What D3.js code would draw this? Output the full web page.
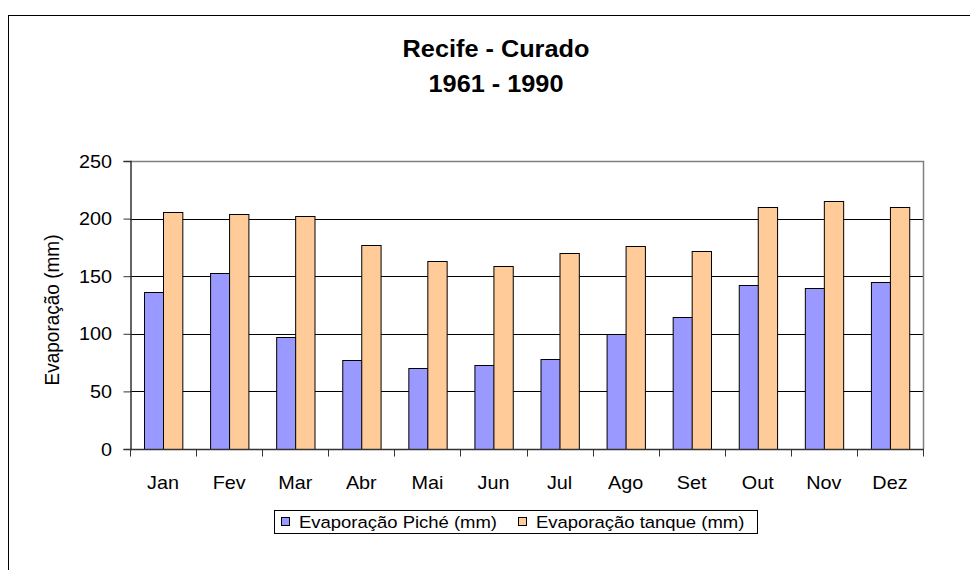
<!DOCTYPE html>
<html>
<head>
<meta charset="UTF-8">
<title>Recife - Curado</title>
<style>
body { margin: 0; background: #fff; }
svg { display: block; font-family: "Liberation Sans", Arial, sans-serif; }
</style>
</head>
<body>
<svg id="chart" width="970" height="570"></svg>
<script src="https://d3js.org/d3.v7.min.js"></script>
<script>
// chart data
const months = ["Jan", "Fev", "Mar", "Abr", "Mai", "Jun", "Jul", "Ago", "Set", "Out", "Nov", "Dez"];
const piche = [136, 153, 97, 77, 70, 73, 78, 100, 115, 142, 140, 145];
const tanque = [206, 204, 202, 177, 163, 159, 170, 176, 172, 210, 215, 210];
const seriesNames = ["Evaporação Piché (mm)", "Evaporação tanque (mm)"];
const seriesColors = ["#9999FF", "#FFCC99"];
const yTicks = [0, 50, 100, 150, 200, 250];

const svg = d3.select("#chart");
const margin = {left: 130, right: 923, top: 161, bottom: 449};
const sx = 1.1; // the reference is a bit wider than tall

// text helper: stretched horizontally a little
function label(g, x, y, txt, size, anchor, bold, stretch) {
  return g.append("text")
    .attr("transform", `translate(${x},${y}) scale(${stretch || sx},1)`)
    .attr("text-anchor", anchor || "start")
    .attr("font-size", size)
    .attr("font-weight", bold ? "bold" : "normal")
    .text(txt);
}

// outer frame (runs off the right / bottom edge)
svg.append("rect")
  .attr("x", 8.5).attr("y", 15.5)
  .attr("width", 980).attr("height", 580)
  .attr("fill", "none").attr("stroke", "#000").attr("stroke-width", 1);

// titles
label(svg, 496, 57, "Recife - Curado", 23, "middle", true);
label(svg, 496, 92, "1961 - 1990", 23, "middle", true);

let x = d3.scaleBand().domain(months).range([margin.left, margin.right]).paddingInner(0).paddingOuter(0);
let xInner = d3.scaleBand().domain([0, 1]).range([0, x.bandwidth()]).paddingInner(0).paddingOuter(0.71);
let y = d3.scaleLinear().domain([0, 250]).range([margin.bottom, margin.top]);

// gridlines
svg.append("g").selectAll("line").data(yTicks.filter(d => d > 0 && d < 250)).enter()
  .append("line")
  .attr("x1", margin.left).attr("x2", margin.right)
  .attr("y1", d => Math.round(y(d)) + 0.5).attr("y2", d => Math.round(y(d)) + 0.5)
  .attr("stroke", "#000").attr("stroke-width", 1);

// plot border top/right
svg.append("path")
  .attr("d", `M${margin.left},${margin.top + 0.5}H${margin.right + 0.5}V${margin.bottom}`)
  .attr("fill", "none").attr("stroke", "#808080").attr("stroke-width", 1.5);

// bars
const rows = months.map((m, i) => ({month: m, vals: [piche[i], tanque[i]]}));
const groups = svg.append("g").selectAll("g").data(rows).enter()
  .append("g").attr("transform", d => `translate(${x(d.month)},0)`);
groups.selectAll("rect").data(d => d.vals.map((v, k) => ({v, k}))).enter()
  .append("rect")
  .attr("x", d => Math.round(xInner(d.k)) + 0.5)
  .attr("width", xInner.bandwidth())
  .attr("y", d => Math.round(y(d.v)) + 0.5)
  .attr("height", d => y(0) - Math.round(y(d.v)))
  .attr("fill", d => seriesColors[d.k])
  .attr("stroke", "#000").attr("stroke-width", 1);

// y axis
const yAxis = svg.append("g")
  .attr("transform", `translate(${margin.left + 0.5},0)`)
  .call(d3.axisLeft(y).tickValues(yTicks).tickSize(7).tickFormat(""));
yAxis.select(".domain").attr("stroke", "#333").attr("stroke-width", 1.5);
yAxis.selectAll(".tick line").attr("stroke", "#333");
yTicks.forEach(t => label(svg, 112, y(t) + 6.5, String(t), 18, "end"));

// x axis, ticks at category boundaries
const xAxis = svg.append("g").attr("transform", `translate(0,${margin.bottom + 0.5})`);
xAxis.append("line").attr("x1", margin.left).attr("x2", margin.right + 1)
  .attr("stroke", "#333").attr("stroke-width", 1.5);
xAxis.selectAll("line.tk").data(months.concat(["end"])).enter()
  .append("line").attr("class", "tk")
  .attr("x1", (d, i) => Math.round(margin.left + i * x.step()) + 0.5)
  .attr("x2", (d, i) => Math.round(margin.left + i * x.step()) + 0.5)
  .attr("y1", 0).attr("y2", 7).attr("stroke", "#333");
months.forEach(m => label(svg, x(m) + x.bandwidth() / 2, 489, m, 18, "middle"));

// y axis title
svg.append("text")
  .attr("transform", `translate(59,${(margin.top + margin.bottom) / 2 + 5}) rotate(-90) scale(1,${sx})`)
  .attr("text-anchor", "middle").attr("font-size", 19)
  .text("Evaporação (mm)");

// legend
const legend = svg.append("g");
const lbox = legend.append("rect")
  .attr("x", 274.5).attr("y", 510.5).attr("height", 23)
  .attr("fill", "#fff").attr("stroke", "#000").attr("stroke-width", 1);
let lx = 281, lend = 0;
seriesNames.forEach((name, k) => {
  legend.append("rect").attr("x", lx + 0.5).attr("y", 517.5).attr("width", 8).attr("height", 8)
    .attr("fill", seriesColors[k]).attr("stroke", "#000");
  const t = label(legend, lx + 18, 528, name, 16.8, "start");
  lend = lx + 18 + t.node().getComputedTextLength() * sx;
  lx = lend + 21;
});
lbox.attr("width", Math.round(lend + 13 - 274));
</script>
</body>
</html>
